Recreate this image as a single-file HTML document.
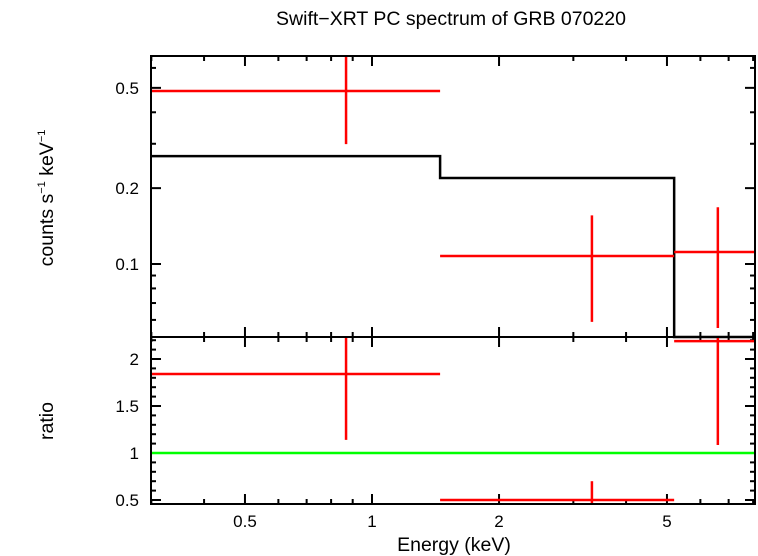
<!DOCTYPE html>
<html><head><meta charset="utf-8"><style>
body{margin:0;background:#fff;}
svg{display:block;font-family:"Liberation Sans",sans-serif;}
</style></head><body>
<svg id="c" width="758" height="556" xmlns="http://www.w3.org/2000/svg">
<text x="451" y="25" font-size="19.5" text-anchor="middle">Swift−XRT PC spectrum of GRB 070220</text>
<text x="454" y="551" font-size="19.5" text-anchor="middle">Energy (keV)</text>
<text transform="translate(53,198) rotate(-90)" font-size="19.5" text-anchor="middle">counts s<tspan font-size="11" dy="-8">−1</tspan><tspan dy="8"> keV</tspan><tspan font-size="11" dy="-8">−1</tspan></text>
<text transform="translate(53,421) rotate(-90)" font-size="19.5" text-anchor="middle">ratio</text>
<g id="g"></g>
</svg>
<script>
const binLo=[0.298,1.45,5.2];
const binHi=[1.45,5.2,8.09];
const binCenter=[0.868,3.32,6.6];
const rate=[0.486,0.1076,0.1116];
const rateLo=[0.299,0.0589,0.0557];
const rateHi=[0.8,0.156,0.168];
const model=[0.268,0.2195,0.04];
const ratio=[1.84,0.5,2.19];
const ratioLo=[1.14,0.3,1.085];
const ratioHi=[2.5,0.70,2.5];
const xTicks=[0.5,1,2,5];
const xMinor=[0.3,0.4,0.6,0.7,0.8,0.9,3,4,6,7,8];
const topTicks=[0.1,0.2,0.5];
const topMinor=[0.06,0.07,0.08,0.09,0.3,0.4,0.6];
const botTicks=[0.5,1,1.5,2];
const botMinor=[0.6,0.7,0.8,0.9,1.1,1.2,1.3,1.4,1.6,1.7,1.8,1.9,2.1,2.2];

const L=151,R=755,T=56,M=337,B=504;
const X=e=>372+422*Math.log10(e);
const YT=v=>264-252*Math.log10(v/0.1);
const YB=v=>453-94*(v-1);
const NS="http://www.w3.org/2000/svg";
const g=document.getElementById('g');
function el(t,a,txt){const e=document.createElementNS(NS,t);for(const k in a)e.setAttribute(k,a[k]);if(txt!==undefined)e.textContent=txt;g.appendChild(e);return e;}
function ln(x1,y1,x2,y2,c,w){return el('line',{x1,y1,x2,y2,stroke:c,'stroke-width':w});}
const cl=(v,a,b)=>Math.max(a,Math.min(b,v));

// ticks first
[[T,M],[M,B]].forEach(([a,b])=>{
 xTicks.forEach(v=>{ln(X(v),a,X(v),a+10,'#000',2);ln(X(v),b,X(v),b-10,'#000',2);});
 xMinor.forEach(v=>{ln(X(v),a,X(v),a+5,'#000',2);ln(X(v),b,X(v),b-5,'#000',2);});
});
xTicks.forEach(v=>{let t=el('text',{x:X(v),y:527,'font-size':17,'text-anchor':'middle'},String(v));
});
topTicks.forEach(v=>{ln(L,YT(v),L+10,YT(v),'#000',2);ln(R,YT(v),R-10,YT(v),'#000',2);
 let t=el('text',{x:139,y:YT(v)+6,'font-size':17,'text-anchor':'end'},String(v));
 });
topMinor.forEach(v=>{ln(L,YT(v),L+5,YT(v),'#000',2);ln(R,YT(v),R-5,YT(v),'#000',2);});
botTicks.forEach(v=>{ln(L,YB(v),L+10,YB(v),'#000',2);ln(R,YB(v),R-10,YB(v),'#000',2);
 let t=el('text',{x:139,y:YB(v)+6,'font-size':17,'text-anchor':'end'},String(v));
 });
botMinor.forEach(v=>{ln(L,YB(v),L+5,YB(v),'#000',2);ln(R,YB(v),R-5,YB(v),'#000',2);});

// model step
let d='';
binLo.forEach((lo,i)=>{const y=cl(YT(model[i]),T,M);d+=(i?'L':'M')+X(lo)+','+y+'L'+cl(X(binHi[i]),L,R)+','+y;});
let m=el('path',{d,fill:'none',stroke:'#000','stroke-width':2.5});

// ratio line
let r1=ln(L,YB(1),R,YB(1),'#00ff00',2.5);

// data
binLo.forEach((lo,i)=>{
 const x1=cl(X(lo),L,R),x2=cl(X(binHi[i]),L,R),xc=X(binCenter[i]);
 let a=ln(x1,YT(rate[i]),x2,YT(rate[i]),'#f00',2.5);
 
 let b=ln(xc,cl(YT(rateHi[i]),T,M),xc,cl(YT(rateLo[i]),T,M),'#f00',2.5);
 
 let c=ln(x1,cl(YB(ratio[i]),M,B),x2,cl(YB(ratio[i]),M,B),'#f00',2.5);
 
 let e=ln(xc,cl(YB(ratioHi[i]),M,B),xc,cl(YB(ratioLo[i]),M,B),'#f00',2.5);
 
});
// frames
[[T,M],[M,B]].forEach(([a,b],i)=>{let f=el('rect',{x:L,y:a,width:R-L,height:b-a,fill:'none',stroke:'#000','stroke-width':2});
});
</script>
</body></html>
